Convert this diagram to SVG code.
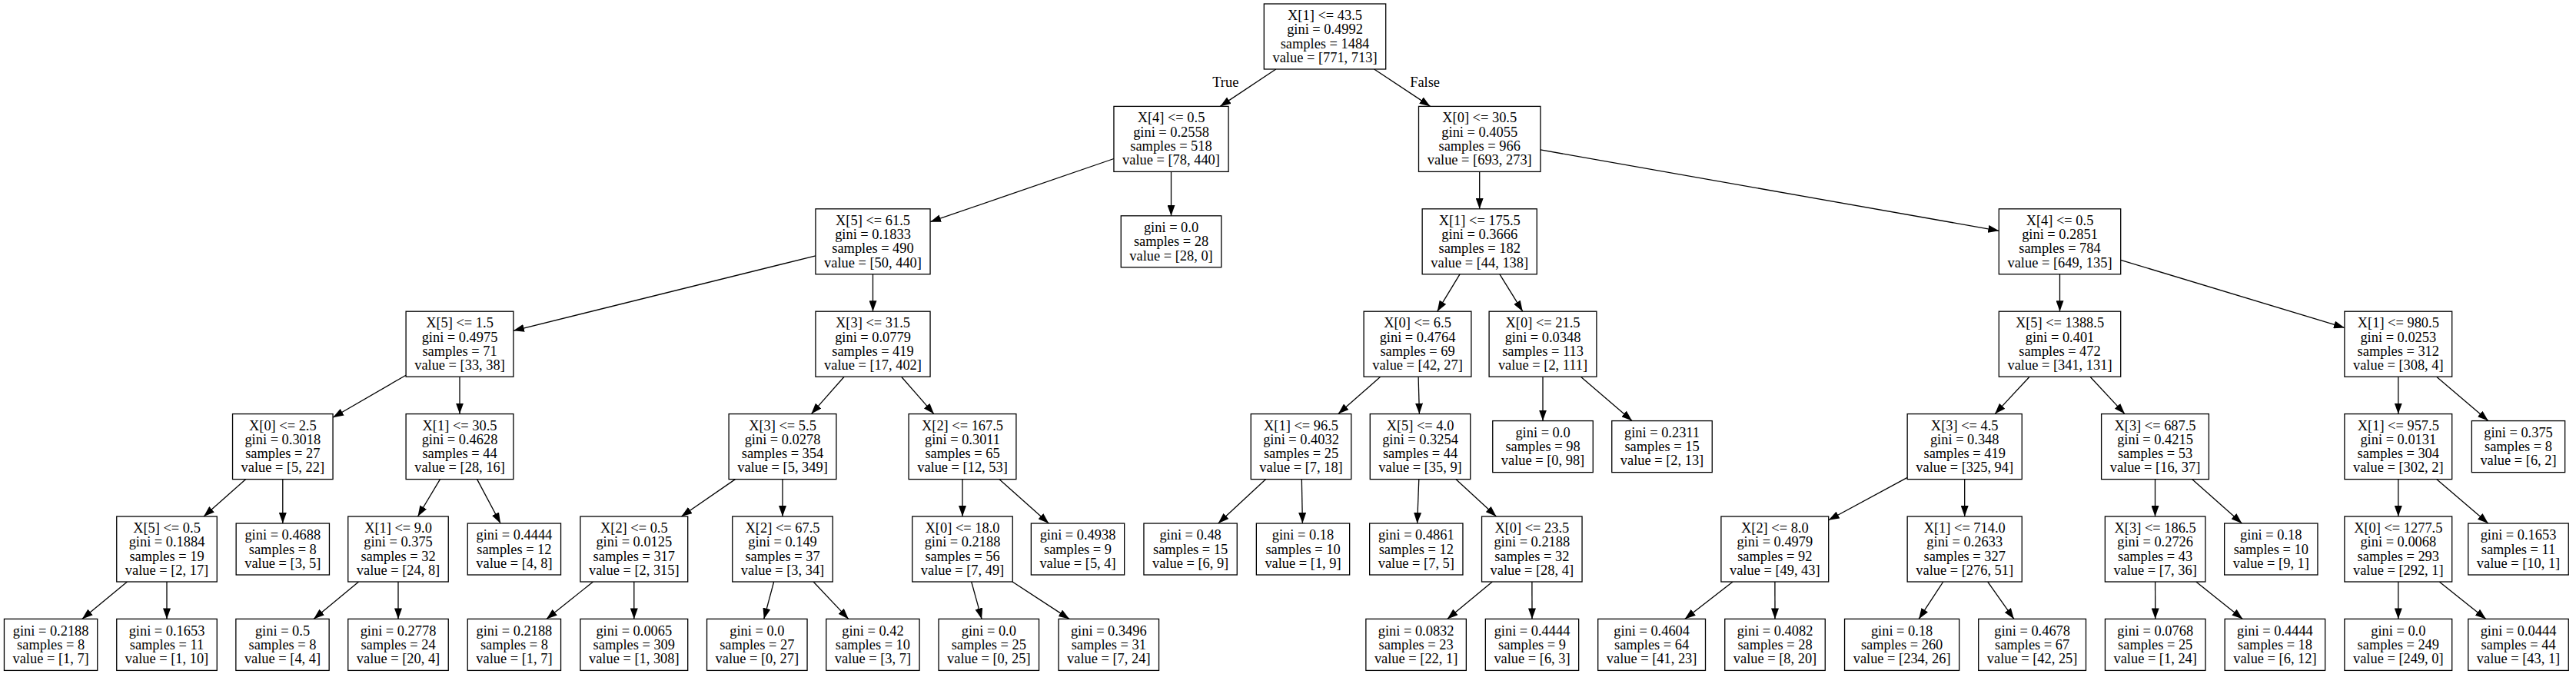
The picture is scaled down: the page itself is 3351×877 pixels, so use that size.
<svg xmlns="http://www.w3.org/2000/svg" width="3351" height="877" viewBox="0 0 3351 877">
<style>
rect{fill:#fff;stroke:#000;stroke-width:1.3}
text{font-family:"Liberation Serif","Times New Roman",serif;font-size:18.4px;text-anchor:middle;fill:#000}
#edges line{stroke:#000;stroke-width:1.3;marker-end:url(#a)}
</style>
<defs>
<marker id="a" viewBox="0 0 14 10" refX="14" refY="5" markerWidth="14" markerHeight="10" markerUnits="userSpaceOnUse" orient="auto"><path d="M0,0L14,5L0,10z" fill="#000"/></marker>
</defs>
<rect x="0" y="0" width="3351" height="877" style="stroke:none"/>
<g id="edges">
<line x1="1659.8" y1="90" x2="1587.2" y2="138.4"/>
<line x1="1787.6" y1="90" x2="1860.6" y2="138.4"/>
<line x1="1448.95" y1="206.5" x2="1210.05" y2="288.7"/>
<line x1="1523.5" y1="223.4" x2="1523.5" y2="280.8"/>
<line x1="1924.7" y1="223.4" x2="1924.7" y2="271.8"/>
<line x1="2003.9" y1="194.9" x2="2600.3" y2="300.3"/>
<line x1="1060.95" y1="332.8" x2="667.9" y2="430.35"/>
<line x1="1135.5" y1="356.8" x2="1135.5" y2="405.2"/>
<line x1="1899" y1="356.8" x2="1869.7" y2="405.2"/>
<line x1="1950.9" y1="356.8" x2="1980.8" y2="405.2"/>
<line x1="2679.5" y1="356.8" x2="2679.5" y2="405.2"/>
<line x1="2758.7" y1="338.3" x2="3049.9" y2="426.5"/>
<line x1="528.1" y1="488.2" x2="433.05" y2="543.3"/>
<line x1="598" y1="490.2" x2="598" y2="538.6"/>
<line x1="1098.1" y1="490.2" x2="1055.4" y2="538.6"/>
<line x1="1172.6" y1="490.2" x2="1214.9" y2="538.6"/>
<line x1="1795.7" y1="490.2" x2="1740.8" y2="538.6"/>
<line x1="1845.1" y1="490.2" x2="1846.4" y2="538.6"/>
<line x1="2007" y1="490.2" x2="2007" y2="547.6"/>
<line x1="2056.4" y1="490.2" x2="2123.1" y2="547.6"/>
<line x1="2640.1" y1="490.2" x2="2595.1" y2="538.6"/>
<line x1="2719" y1="490.2" x2="2764" y2="538.6"/>
<line x1="3119.8" y1="490.2" x2="3119.8" y2="538.6"/>
<line x1="3169.6" y1="490.2" x2="3236.8" y2="547.6"/>
<line x1="319.75" y1="623.6" x2="265.05" y2="672"/>
<line x1="367.8" y1="623.6" x2="367.8" y2="681"/>
<line x1="572.5" y1="623.6" x2="543.5" y2="672"/>
<line x1="620.6" y1="623.6" x2="651.1" y2="681"/>
<line x1="956.45" y1="623.6" x2="886.35" y2="672"/>
<line x1="1018" y1="623.6" x2="1018" y2="672"/>
<line x1="1252" y1="623.6" x2="1252" y2="672"/>
<line x1="1299.8" y1="623.6" x2="1364.3" y2="681"/>
<line x1="1646.65" y1="623.6" x2="1584.7" y2="681"/>
<line x1="1693.3" y1="623.6" x2="1694.4" y2="681"/>
<line x1="1845.8" y1="623.6" x2="1843.6" y2="681"/>
<line x1="1893.8" y1="623.6" x2="1946.5" y2="672"/>
<line x1="2481.15" y1="621.4" x2="2378.7" y2="676.7"/>
<line x1="2555.7" y1="623.6" x2="2555.7" y2="672"/>
<line x1="2803.5" y1="623.6" x2="2803.5" y2="672"/>
<line x1="2851.55" y1="623.6" x2="2916.4" y2="681"/>
<line x1="3119.8" y1="623.6" x2="3119.8" y2="672"/>
<line x1="3169.6" y1="623.6" x2="3236.8" y2="681"/>
<line x1="165.45" y1="757" x2="106.74" y2="805.4"/>
<line x1="217" y1="757" x2="217" y2="805.4"/>
<line x1="466.6" y1="757" x2="408" y2="805.4"/>
<line x1="518" y1="757" x2="518" y2="805.4"/>
<line x1="771.54" y1="757" x2="710.88" y2="805.4"/>
<line x1="824.8" y1="757" x2="824.8" y2="805.4"/>
<line x1="1006.66" y1="757" x2="993.74" y2="805.4"/>
<line x1="1058.1" y1="757" x2="1103.8" y2="805.4"/>
<line x1="1263.7" y1="757" x2="1277.06" y2="805.4"/>
<line x1="1317" y1="757" x2="1391.05" y2="805.4"/>
<line x1="1941.3" y1="757" x2="1882.7" y2="805.4"/>
<line x1="1992.9" y1="757" x2="1993" y2="805.4"/>
<line x1="2254.1" y1="757" x2="2191.7" y2="805.4"/>
<line x1="2308.9" y1="757" x2="2309" y2="805.4"/>
<line x1="2527.8" y1="757" x2="2496.1" y2="805.4"/>
<line x1="2585.7" y1="757" x2="2619.9" y2="805.4"/>
<line x1="2803.6" y1="757" x2="2803.7" y2="805.4"/>
<line x1="2856.8" y1="757" x2="2917.4" y2="805.4"/>
<line x1="3119.8" y1="757" x2="3119.8" y2="805.4"/>
<line x1="3173.2" y1="757" x2="3233.9" y2="805.4"/>
<text x="1594.3" y="113">True</text>
<text x="1853.6" y="113">False</text>
</g>
<g id="n0" transform="translate(1723.5,47.5)"><rect x="-79.2" y="-42.5" width="158.4" height="85"/><text y="-21.5">X[1] &lt;= 43.5</text><text y="-3.2">gini = 0.4992</text><text y="15.1">samples = 1484</text><text y="33.4">value = [771, 713]</text></g>
<g id="n1" transform="translate(1523.5,180.9)"><rect x="-74.55" y="-42.5" width="149.1" height="85"/><text y="-21.5">X[4] &lt;= 0.5</text><text y="-3.2">gini = 0.2558</text><text y="15.1">samples = 518</text><text y="33.4">value = [78, 440]</text></g>
<g id="n28" transform="translate(1924.7,180.9)"><rect x="-79.2" y="-42.5" width="158.4" height="85"/><text y="-21.5">X[0] &lt;= 30.5</text><text y="-3.2">gini = 0.4055</text><text y="15.1">samples = 966</text><text y="33.4">value = [693, 273]</text></g>
<g id="n2" transform="translate(1135.5,314.3)"><rect x="-74.55" y="-42.5" width="149.1" height="85"/><text y="-21.5">X[5] &lt;= 61.5</text><text y="-3.2">gini = 0.1833</text><text y="15.1">samples = 490</text><text y="33.4">value = [50, 440]</text></g>
<g id="n27" transform="translate(1523.5,314.3)"><rect x="-65.25" y="-33.5" width="130.5" height="67"/><text y="-12.3">gini = 0.0</text><text y="6">samples = 28</text><text y="24.3">value = [28, 0]</text></g>
<g id="n29" transform="translate(1924.7,314.3)"><rect x="-74.55" y="-42.5" width="149.1" height="85"/><text y="-21.5">X[1] &lt;= 175.5</text><text y="-3.2">gini = 0.3666</text><text y="15.1">samples = 182</text><text y="33.4">value = [44, 138]</text></g>
<g id="n42" transform="translate(2679.5,314.3)"><rect x="-79.2" y="-42.5" width="158.4" height="85"/><text y="-21.5">X[4] &lt;= 0.5</text><text y="-3.2">gini = 0.2851</text><text y="15.1">samples = 784</text><text y="33.4">value = [649, 135]</text></g>
<g id="n3" transform="translate(598,447.7)"><rect x="-69.9" y="-42.5" width="139.8" height="85"/><text y="-21.5">X[5] &lt;= 1.5</text><text y="-3.2">gini = 0.4975</text><text y="15.1">samples = 71</text><text y="33.4">value = [33, 38]</text></g>
<g id="n14" transform="translate(1135.5,447.7)"><rect x="-74.55" y="-42.5" width="149.1" height="85"/><text y="-21.5">X[3] &lt;= 31.5</text><text y="-3.2">gini = 0.0779</text><text y="15.1">samples = 419</text><text y="33.4">value = [17, 402]</text></g>
<g id="n30" transform="translate(1844,447.7)"><rect x="-69.9" y="-42.5" width="139.8" height="85"/><text y="-21.5">X[0] &lt;= 6.5</text><text y="-3.2">gini = 0.4764</text><text y="15.1">samples = 69</text><text y="33.4">value = [42, 27]</text></g>
<g id="n39" transform="translate(2007,447.7)"><rect x="-69.9" y="-42.5" width="139.8" height="85"/><text y="-21.5">X[0] &lt;= 21.5</text><text y="-3.2">gini = 0.0348</text><text y="15.1">samples = 113</text><text y="33.4">value = [2, 111]</text></g>
<g id="n43" transform="translate(2679.5,447.7)"><rect x="-79.2" y="-42.5" width="158.4" height="85"/><text y="-21.5">X[5] &lt;= 1388.5</text><text y="-3.2">gini = 0.401</text><text y="15.1">samples = 472</text><text y="33.4">value = [341, 131]</text></g>
<g id="n56" transform="translate(3119.8,447.7)"><rect x="-69.9" y="-42.5" width="139.8" height="85"/><text y="-21.5">X[1] &lt;= 980.5</text><text y="-3.2">gini = 0.0253</text><text y="15.1">samples = 312</text><text y="33.4">value = [308, 4]</text></g>
<g id="n4" transform="translate(367.8,581.1)"><rect x="-65.25" y="-42.5" width="130.5" height="85"/><text y="-21.5">X[0] &lt;= 2.5</text><text y="-3.2">gini = 0.3018</text><text y="15.1">samples = 27</text><text y="33.4">value = [5, 22]</text></g>
<g id="n9" transform="translate(598,581.1)"><rect x="-69.9" y="-42.5" width="139.8" height="85"/><text y="-21.5">X[1] &lt;= 30.5</text><text y="-3.2">gini = 0.4628</text><text y="15.1">samples = 44</text><text y="33.4">value = [28, 16]</text></g>
<g id="n15" transform="translate(1018,581.1)"><rect x="-69.9" y="-42.5" width="139.8" height="85"/><text y="-21.5">X[3] &lt;= 5.5</text><text y="-3.2">gini = 0.0278</text><text y="15.1">samples = 354</text><text y="33.4">value = [5, 349]</text></g>
<g id="n22" transform="translate(1252,581.1)"><rect x="-69.9" y="-42.5" width="139.8" height="85"/><text y="-21.5">X[2] &lt;= 167.5</text><text y="-3.2">gini = 0.3011</text><text y="15.1">samples = 65</text><text y="33.4">value = [12, 53]</text></g>
<g id="n31" transform="translate(1692.5,581.1)"><rect x="-65.25" y="-42.5" width="130.5" height="85"/><text y="-21.5">X[1] &lt;= 96.5</text><text y="-3.2">gini = 0.4032</text><text y="15.1">samples = 25</text><text y="33.4">value = [7, 18]</text></g>
<g id="n34" transform="translate(1847.5,581.1)"><rect x="-65.25" y="-42.5" width="130.5" height="85"/><text y="-21.5">X[5] &lt;= 4.0</text><text y="-3.2">gini = 0.3254</text><text y="15.1">samples = 44</text><text y="33.4">value = [35, 9]</text></g>
<g id="n40" transform="translate(2007,581.1)"><rect x="-65.25" y="-33.5" width="130.5" height="67"/><text y="-12.3">gini = 0.0</text><text y="6">samples = 98</text><text y="24.3">value = [0, 98]</text></g>
<g id="n41" transform="translate(2162,581.1)"><rect x="-65.25" y="-33.5" width="130.5" height="67"/><text y="-12.3">gini = 0.2311</text><text y="6">samples = 15</text><text y="24.3">value = [2, 13]</text></g>
<g id="n44" transform="translate(2555.7,581.1)"><rect x="-74.55" y="-42.5" width="149.1" height="85"/><text y="-21.5">X[3] &lt;= 4.5</text><text y="-3.2">gini = 0.348</text><text y="15.1">samples = 419</text><text y="33.4">value = [325, 94]</text></g>
<g id="n51" transform="translate(2803.5,581.1)"><rect x="-69.9" y="-42.5" width="139.8" height="85"/><text y="-21.5">X[3] &lt;= 687.5</text><text y="-3.2">gini = 0.4215</text><text y="15.1">samples = 53</text><text y="33.4">value = [16, 37]</text></g>
<g id="n57" transform="translate(3119.8,581.1)"><rect x="-69.9" y="-42.5" width="139.8" height="85"/><text y="-21.5">X[1] &lt;= 957.5</text><text y="-3.2">gini = 0.0131</text><text y="15.1">samples = 304</text><text y="33.4">value = [302, 2]</text></g>
<g id="n62" transform="translate(3276,581.1)"><rect x="-60.65" y="-33.5" width="121.3" height="67"/><text y="-12.3">gini = 0.375</text><text y="6">samples = 8</text><text y="24.3">value = [6, 2]</text></g>
<g id="n5" transform="translate(217,714.5)"><rect x="-65.25" y="-42.5" width="130.5" height="85"/><text y="-21.5">X[5] &lt;= 0.5</text><text y="-3.2">gini = 0.1884</text><text y="15.1">samples = 19</text><text y="33.4">value = [2, 17]</text></g>
<g id="n8" transform="translate(367.8,714.5)"><rect x="-60.65" y="-33.5" width="121.3" height="67"/><text y="-12.3">gini = 0.4688</text><text y="6">samples = 8</text><text y="24.3">value = [3, 5]</text></g>
<g id="n10" transform="translate(518,714.5)"><rect x="-65.25" y="-42.5" width="130.5" height="85"/><text y="-21.5">X[1] &lt;= 9.0</text><text y="-3.2">gini = 0.375</text><text y="15.1">samples = 32</text><text y="33.4">value = [24, 8]</text></g>
<g id="n13" transform="translate(668.9,714.5)"><rect x="-60.65" y="-33.5" width="121.3" height="67"/><text y="-12.3">gini = 0.4444</text><text y="6">samples = 12</text><text y="24.3">value = [4, 8]</text></g>
<g id="n16" transform="translate(824.8,714.5)"><rect x="-69.9" y="-42.5" width="139.8" height="85"/><text y="-21.5">X[2] &lt;= 0.5</text><text y="-3.2">gini = 0.0125</text><text y="15.1">samples = 317</text><text y="33.4">value = [2, 315]</text></g>
<g id="n19" transform="translate(1018,714.5)"><rect x="-65.25" y="-42.5" width="130.5" height="85"/><text y="-21.5">X[2] &lt;= 67.5</text><text y="-3.2">gini = 0.149</text><text y="15.1">samples = 37</text><text y="33.4">value = [3, 34]</text></g>
<g id="n23" transform="translate(1252,714.5)"><rect x="-65.25" y="-42.5" width="130.5" height="85"/><text y="-21.5">X[0] &lt;= 18.0</text><text y="-3.2">gini = 0.2188</text><text y="15.1">samples = 56</text><text y="33.4">value = [7, 49]</text></g>
<g id="n26" transform="translate(1402,714.5)"><rect x="-60.65" y="-33.5" width="121.3" height="67"/><text y="-12.3">gini = 0.4938</text><text y="6">samples = 9</text><text y="24.3">value = [5, 4]</text></g>
<g id="n32" transform="translate(1548.6,714.5)"><rect x="-60.65" y="-33.5" width="121.3" height="67"/><text y="-12.3">gini = 0.48</text><text y="6">samples = 15</text><text y="24.3">value = [6, 9]</text></g>
<g id="n33" transform="translate(1695,714.5)"><rect x="-60.65" y="-33.5" width="121.3" height="67"/><text y="-12.3">gini = 0.18</text><text y="6">samples = 10</text><text y="24.3">value = [1, 9]</text></g>
<g id="n35" transform="translate(1842.3,714.5)"><rect x="-60.65" y="-33.5" width="121.3" height="67"/><text y="-12.3">gini = 0.4861</text><text y="6">samples = 12</text><text y="24.3">value = [7, 5]</text></g>
<g id="n36" transform="translate(1992.8,714.5)"><rect x="-65.25" y="-42.5" width="130.5" height="85"/><text y="-21.5">X[0] &lt;= 23.5</text><text y="-3.2">gini = 0.2188</text><text y="15.1">samples = 32</text><text y="33.4">value = [28, 4]</text></g>
<g id="n45" transform="translate(2308.8,714.5)"><rect x="-69.9" y="-42.5" width="139.8" height="85"/><text y="-21.5">X[2] &lt;= 8.0</text><text y="-3.2">gini = 0.4979</text><text y="15.1">samples = 92</text><text y="33.4">value = [49, 43]</text></g>
<g id="n48" transform="translate(2555.7,714.5)"><rect x="-74.55" y="-42.5" width="149.1" height="85"/><text y="-21.5">X[1] &lt;= 714.0</text><text y="-3.2">gini = 0.2633</text><text y="15.1">samples = 327</text><text y="33.4">value = [276, 51]</text></g>
<g id="n52" transform="translate(2803.6,714.5)"><rect x="-65.25" y="-42.5" width="130.5" height="85"/><text y="-21.5">X[3] &lt;= 186.5</text><text y="-3.2">gini = 0.2726</text><text y="15.1">samples = 43</text><text y="33.4">value = [7, 36]</text></g>
<g id="n55" transform="translate(2954.3,714.5)"><rect x="-60.65" y="-33.5" width="121.3" height="67"/><text y="-12.3">gini = 0.18</text><text y="6">samples = 10</text><text y="24.3">value = [9, 1]</text></g>
<g id="n58" transform="translate(3119.8,714.5)"><rect x="-69.9" y="-42.5" width="139.8" height="85"/><text y="-21.5">X[0] &lt;= 1277.5</text><text y="-3.2">gini = 0.0068</text><text y="15.1">samples = 293</text><text y="33.4">value = [292, 1]</text></g>
<g id="n61" transform="translate(3276,714.5)"><rect x="-65.25" y="-33.5" width="130.5" height="67"/><text y="-12.3">gini = 0.1653</text><text y="6">samples = 11</text><text y="24.3">value = [10, 1]</text></g>
<g id="n6" transform="translate(66.1,838.9)"><rect x="-60.65" y="-33.5" width="121.3" height="67"/><text y="-12.3">gini = 0.2188</text><text y="6">samples = 8</text><text y="24.3">value = [1, 7]</text></g>
<g id="n7" transform="translate(217,838.9)"><rect x="-65.25" y="-33.5" width="130.5" height="67"/><text y="-12.3">gini = 0.1653</text><text y="6">samples = 11</text><text y="24.3">value = [1, 10]</text></g>
<g id="n11" transform="translate(367.5,838.9)"><rect x="-60.65" y="-33.5" width="121.3" height="67"/><text y="-12.3">gini = 0.5</text><text y="6">samples = 8</text><text y="24.3">value = [4, 4]</text></g>
<g id="n12" transform="translate(518,838.9)"><rect x="-65.25" y="-33.5" width="130.5" height="67"/><text y="-12.3">gini = 0.2778</text><text y="6">samples = 24</text><text y="24.3">value = [20, 4]</text></g>
<g id="n17" transform="translate(668.9,838.9)"><rect x="-60.65" y="-33.5" width="121.3" height="67"/><text y="-12.3">gini = 0.2188</text><text y="6">samples = 8</text><text y="24.3">value = [1, 7]</text></g>
<g id="n18" transform="translate(824.8,838.9)"><rect x="-69.9" y="-33.5" width="139.8" height="67"/><text y="-12.3">gini = 0.0065</text><text y="6">samples = 309</text><text y="24.3">value = [1, 308]</text></g>
<g id="n20" transform="translate(984.8,838.9)"><rect x="-65.25" y="-33.5" width="130.5" height="67"/><text y="-12.3">gini = 0.0</text><text y="6">samples = 27</text><text y="24.3">value = [0, 27]</text></g>
<g id="n21" transform="translate(1135.4,838.9)"><rect x="-60.65" y="-33.5" width="121.3" height="67"/><text y="-12.3">gini = 0.42</text><text y="6">samples = 10</text><text y="24.3">value = [3, 7]</text></g>
<g id="n24" transform="translate(1286.3,838.9)"><rect x="-65.25" y="-33.5" width="130.5" height="67"/><text y="-12.3">gini = 0.0</text><text y="6">samples = 25</text><text y="24.3">value = [0, 25]</text></g>
<g id="n25" transform="translate(1442.3,838.9)"><rect x="-65.25" y="-33.5" width="130.5" height="67"/><text y="-12.3">gini = 0.3496</text><text y="6">samples = 31</text><text y="24.3">value = [7, 24]</text></g>
<g id="n37" transform="translate(1842.1,838.9)"><rect x="-65.25" y="-33.5" width="130.5" height="67"/><text y="-12.3">gini = 0.0832</text><text y="6">samples = 23</text><text y="24.3">value = [22, 1]</text></g>
<g id="n38" transform="translate(1993,838.9)"><rect x="-60.65" y="-33.5" width="121.3" height="67"/><text y="-12.3">gini = 0.4444</text><text y="6">samples = 9</text><text y="24.3">value = [6, 3]</text></g>
<g id="n46" transform="translate(2148.6,838.9)"><rect x="-69.9" y="-33.5" width="139.8" height="67"/><text y="-12.3">gini = 0.4604</text><text y="6">samples = 64</text><text y="24.3">value = [41, 23]</text></g>
<g id="n47" transform="translate(2309,838.9)"><rect x="-65.25" y="-33.5" width="130.5" height="67"/><text y="-12.3">gini = 0.4082</text><text y="6">samples = 28</text><text y="24.3">value = [8, 20]</text></g>
<g id="n49" transform="translate(2474.1,838.9)"><rect x="-74.55" y="-33.5" width="149.1" height="67"/><text y="-12.3">gini = 0.18</text><text y="6">samples = 260</text><text y="24.3">value = [234, 26]</text></g>
<g id="n50" transform="translate(2643.6,838.9)"><rect x="-69.9" y="-33.5" width="139.8" height="67"/><text y="-12.3">gini = 0.4678</text><text y="6">samples = 67</text><text y="24.3">value = [42, 25]</text></g>
<g id="n53" transform="translate(2803.7,838.9)"><rect x="-65.25" y="-33.5" width="130.5" height="67"/><text y="-12.3">gini = 0.0768</text><text y="6">samples = 25</text><text y="24.3">value = [1, 24]</text></g>
<g id="n54" transform="translate(2959.4,838.9)"><rect x="-65.25" y="-33.5" width="130.5" height="67"/><text y="-12.3">gini = 0.4444</text><text y="6">samples = 18</text><text y="24.3">value = [6, 12]</text></g>
<g id="n59" transform="translate(3119.8,838.9)"><rect x="-69.9" y="-33.5" width="139.8" height="67"/><text y="-12.3">gini = 0.0</text><text y="6">samples = 249</text><text y="24.3">value = [249, 0]</text></g>
<g id="n60" transform="translate(3276,838.9)"><rect x="-65.25" y="-33.5" width="130.5" height="67"/><text y="-12.3">gini = 0.0444</text><text y="6">samples = 44</text><text y="24.3">value = [43, 1]</text></g>
</svg>
